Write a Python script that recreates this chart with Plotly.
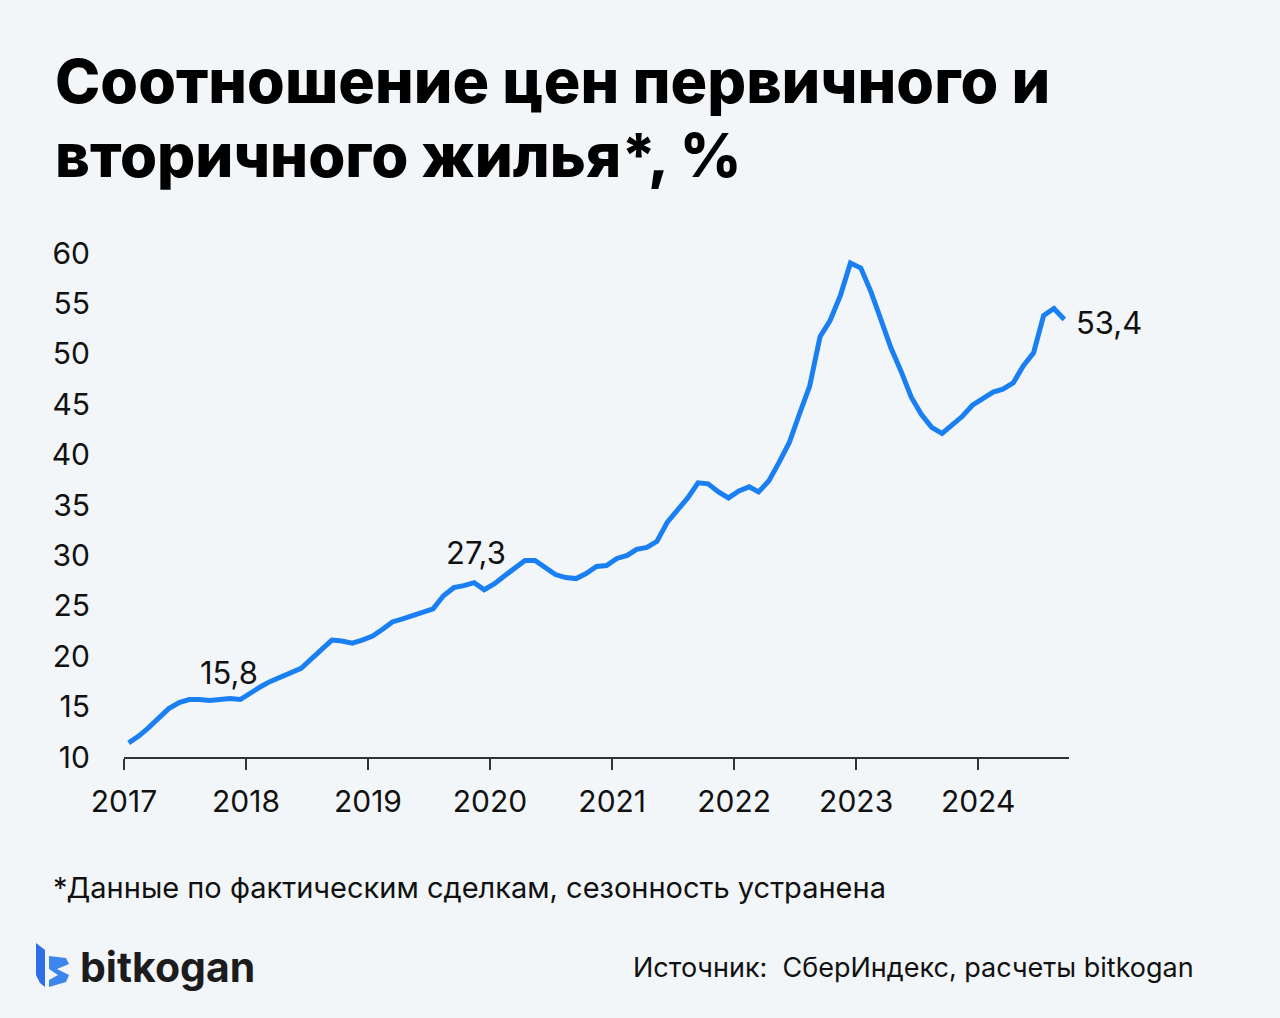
import plotly.graph_objects as go
import pandas as pd

# ---- data (monthly, Jan 2017 – Sep 2024) ----
values = [
    11.4, 12.1, 12.9, 13.8, 14.8, 15.4, 15.7, 15.7, 15.6, 15.7, 15.8, 15.7,   # 2017
    16.4, 17.0, 17.5, 17.9, 18.3, 18.8, 19.7, 20.6, 21.6, 21.5, 21.3, 21.6,   # 2018
    22.0, 22.7, 23.4, 23.7, 24.0, 24.3, 24.7, 26.0, 26.8, 27.0, 27.3, 26.6,   # 2019
    27.2, 28.0, 28.8, 29.5, 29.5, 28.8, 28.1, 27.8, 27.7, 28.2, 28.9, 29.0,   # 2020
    29.7, 30.0, 30.6, 30.8, 31.4, 33.3, 34.5, 35.7, 37.2, 37.1, 36.3, 35.7,   # 2021
    36.4, 36.8, 36.3, 37.4, 39.2, 41.2, 44.0, 46.8, 51.7, 53.3, 55.8, 59.0,   # 2022
    58.5, 56.1, 53.5, 50.6, 48.3, 45.7, 44.0, 42.7, 42.1, 42.9, 43.8, 44.9,   # 2023
    45.5, 46.2, 46.5, 47.1, 48.8, 50.1, 53.8, 54.5, 53.4,                     # 2024
]
dates = pd.date_range(start="2017-01-01", periods=len(values), freq="MS") + pd.Timedelta(days=14)

label_idx = [10, 34, 92]
label_text = ["15,8", "27,3", "53,4"]

year_ticks = [f"{y}-01-01" for y in range(2017, 2025)]
year_labels = [str(y) for y in range(2017, 2025)]
y_ticks = list(range(10, 61, 5))

title_line1 = "Соотношение цен первичного и"
title_line2 = "вторичного жилья*, %"
footnote = "*Данные по фактическим сделкам, сезонность устранена"
source = "Источник:  СберИндекс, расчеты bitkogan"
brand = "bitkogan"

# ---- layout geometry ----
W, H = 1280, 1018
L, R = 124, 1069
T, B = 253, 757
BG = "#F3F6F9"
BLUE = "#1A7FF2"
FONT = "Inter"
TXT = "#111111"

def px(x):
    return (x - L) / (R - L)

def py(y):
    return (B - y) / (B - T)

fig = go.Figure()
fig.add_trace(go.Scatter(
    x=dates, y=values, mode="lines",
    line=dict(color=BLUE, width=5, shape="linear"),
    hoverinfo="skip", showlegend=False,
))

annotations = []
# value labels: (xshift, yshift, anchor)
offsets = [(-1, 26, "center"), (2, 30, "center"), (10, -3, "left")]
for (i, t), (dx, dy, anc) in zip(zip(label_idx, label_text), offsets):
    annotations.append(dict(
        x=dates[i], y=values[i], xref="x", yref="y", text=t, showarrow=False,
        xshift=dx, yshift=dy, xanchor=anc, yanchor="middle",
        font=dict(family=FONT, size=31, color=TXT),
    ))

for line, size, top in ((title_line1, 61, 42), (title_line2, 60, 117)):
    annotations.append(dict(
        x=px(53), y=py(top), xref="paper", yref="paper", text=line,
        showarrow=False, xanchor="left", yanchor="top", align="left",
        font=dict(family=FONT, size=size, color="#000000", weight=800),
    ))
annotations.append(dict(
    x=px(51), y=py(887), xref="paper", yref="paper", text=footnote,
    showarrow=False, xanchor="left", yanchor="middle",
    font=dict(family=FONT, size=29, color=TXT),
))
annotations.append(dict(
    x=px(1196), y=py(967), xref="paper", yref="paper", text=source,
    showarrow=False, xanchor="right", yanchor="middle",
    font=dict(family=FONT, size=27, color=TXT),
))
annotations.append(dict(
    x=px(78), y=py(967), xref="paper", yref="paper", text=brand,
    showarrow=False, xanchor="left", yanchor="middle",
    font=dict(family=FONT, size=41, color="#1C1C1E", weight=700),
))

def path(points):
    return "M " + " L ".join(f"{px(x)},{py(y)}" for x, y in points) + " Z"

shapes = [
    dict(type="path", xref="paper", yref="paper", line=dict(width=0),
         fillcolor="#2E6FE6",
         path=path([(36, 943), (45, 950), (45, 987), (40, 983), (36, 975)])),
    dict(type="path", xref="paper", yref="paper", line=dict(width=0),
         fillcolor="#3D86EE",
         path=path([(49, 956), (66, 958), (69, 964), (57, 969), (69, 975),
                    (66, 982), (49, 987), (49, 980), (58, 975), (49, 969)])),
]

fig.update_layout(
    width=W, height=H,
    margin=dict(l=L, r=W - R, t=T, b=H - B, pad=0),
    paper_bgcolor=BG, plot_bgcolor=BG,
    showlegend=False,
    annotations=annotations,
    shapes=shapes,
    xaxis=dict(
        range=["2017-01-01", "2024-09-29"],
        tickvals=year_ticks, ticktext=year_labels,
        showgrid=False, zeroline=False,
        showline=True, linecolor="#333333", linewidth=2,
        ticks="outside", ticklen=11, tickwidth=2, tickcolor="#333333",
        tickfont=dict(family=FONT, size=30, color=TXT),
        ticklabelstandoff=6,
    ),
    yaxis=dict(
        range=[10, 60], tickvals=y_ticks,
        showgrid=False, zeroline=False, showline=False,
        ticks="",
        tickfont=dict(family=FONT, size=30, color=TXT),
        ticklabelstandoff=33,
    ),
)

fig.write_html(
    "out.html",
    config={"displayModeBar": False},
    post_script="document.body.style.margin='0';document.body.style.background='%s';" % BG,
)
